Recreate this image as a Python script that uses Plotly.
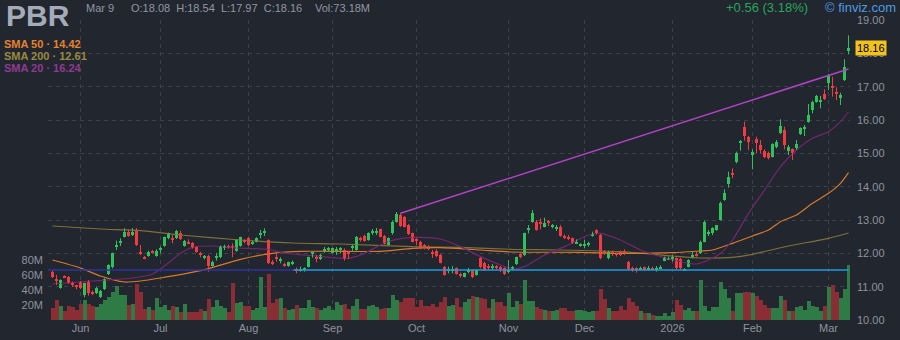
import pandas as pd
import plotly.graph_objects as go

# ---------------------------------------------------------------- calendar
market_holidays = pd.to_datetime([
    "2025-05-26", "2025-06-19", "2025-07-04", "2025-09-01", "2025-11-27",
    "2025-12-25", "2026-01-01", "2026-01-19", "2026-02-16",
])
sessions = pd.bdate_range("2025-05-21", "2026-03-09")
sessions = sessions[~sessions.isin(market_holidays)]

ticker = "PBR"
month_labels = ["Jun", "Jul", "Aug", "Sep", "Oct", "Nov", "Dec", "2026", "Feb", "Mar"]
price_ticks = [10, 11, 12, 13, 14, 15, 16, 17, 18, 19]
volume_ticks = [20, 40, 60, 80]  # millions of shares

# ---------------------------------------------------------------- daily OHLC
opens = [
    11.45, 11.24, 10.97, 11.32, 11.30, 11.10, 11.03, 11.15, 10.75, 11.15,
    10.85, 10.80, 10.68, 10.92, 11.38, 11.58, 12.20, 12.32, 12.50, 12.65,
    12.55, 12.70, 12.05, 11.90, 11.92, 12.06, 11.93, 12.10, 12.22, 12.45,
    12.45, 12.45, 12.62, 12.22, 12.33, 12.32, 12.18, 11.99, 11.88, 11.92,
    11.62, 11.88, 11.88, 12.18, 12.22, 12.22, 12.08, 12.22, 12.38, 12.45,
    12.28, 12.35, 12.56, 12.62, 12.40, 11.75, 11.88, 11.78, 11.68, 11.62,
    11.70, 11.52, 11.48, 11.50, 11.60, 11.98, 11.88, 11.82, 12.10, 12.12,
    12.02, 12.08, 12.10, 12.10, 12.03, 12.16, 12.10, 12.46, 12.53, 12.40,
    12.62, 12.64, 12.72, 12.52, 12.26, 12.60, 12.95, 13.15, 13.08, 12.85,
    12.60, 12.42, 12.35, 12.25, 12.17, 12.05, 12.08, 11.95, 11.58, 11.48,
    11.48, 11.55, 11.37, 11.30, 11.44, 11.50, 11.35, 11.85, 11.72, 11.62,
    11.58, 11.62, 11.58, 11.55, 11.45, 11.50, 11.67, 11.97, 11.95, 12.70,
    12.95, 12.95, 12.92, 12.80, 12.95, 12.78, 12.74, 12.80, 12.50, 12.47,
    12.45, 12.30, 12.22, 12.22, 12.26, 12.52, 12.70, 12.55, 12.05, 11.85,
    12.04, 12.00, 12.05, 12.08, 11.75, 11.55, 11.55, 11.50, 11.58, 11.50,
    11.56, 11.50, 11.55, 11.78, 11.82, 11.84, 11.85, 11.82, 11.50, 11.60,
    11.90, 11.98, 12.00, 12.35, 12.58, 12.60, 12.70, 13.00, 13.60, 14.08,
    14.42, 14.73, 15.30, 15.80, 15.50, 14.95, 15.43, 15.25, 15.07, 15.00,
    14.90, 15.20, 15.62, 15.70, 15.08, 15.12, 15.15, 15.58, 15.75, 15.95,
    16.30, 16.55, 16.55, 16.78, 17.12, 17.02, 16.84, 16.66, 17.20, 18.08,
]
highs = [
    11.50, 11.35, 11.22, 11.34, 11.32, 11.15, 11.05, 11.17, 11.12, 11.20,
    10.88, 10.99, 10.90, 11.25, 11.67, 12.02, 12.38, 12.45, 12.75, 12.72,
    12.76, 12.76, 12.25, 11.92, 12.08, 12.10, 12.12, 12.20, 12.50, 12.62,
    12.55, 12.70, 12.68, 12.40, 12.42, 12.34, 12.20, 12.05, 11.95, 11.95,
    11.78, 12.00, 12.24, 12.26, 12.26, 12.30, 12.42, 12.50, 12.42, 12.48,
    12.38, 12.48, 12.70, 12.75, 12.42, 11.80, 12.00, 11.88, 11.72, 11.75,
    11.78, 11.58, 11.60, 11.58, 11.90, 12.05, 11.95, 11.98, 12.19, 12.19,
    12.17, 12.19, 12.19, 12.15, 12.07, 12.25, 12.52, 12.50, 12.56, 12.63,
    12.73, 12.76, 12.74, 12.55, 12.48, 12.98, 13.24, 13.21, 13.12, 12.88,
    12.62, 12.45, 12.38, 12.28, 12.25, 12.10, 12.12, 11.98, 11.62, 11.60,
    11.62, 11.58, 11.42, 11.42, 11.56, 11.52, 11.52, 11.88, 11.75, 11.68,
    11.68, 11.65, 11.62, 11.58, 11.80, 11.62, 11.90, 12.00, 12.62, 12.85,
    13.30, 13.00, 13.05, 13.07, 13.00, 12.88, 12.85, 12.85, 12.57, 12.55,
    12.47, 12.42, 12.30, 12.40, 12.35, 12.65, 12.72, 12.58, 12.10, 12.08,
    12.08, 12.02, 12.08, 12.12, 11.77, 11.60, 11.58, 11.60, 11.60, 11.62,
    11.60, 11.62, 11.64, 11.90, 11.90, 11.95, 11.88, 11.86, 11.55, 11.82,
    12.05, 12.05, 12.38, 12.98, 12.70, 12.78, 12.85, 13.55, 13.92, 14.45,
    14.55, 15.05, 15.40, 15.95, 15.52, 15.12, 15.50, 15.40, 15.12, 15.05,
    15.30, 15.40, 16.02, 15.80, 15.25, 15.15, 15.40, 15.78, 15.85, 16.48,
    16.58, 16.75, 16.72, 16.92, 17.38, 17.30, 16.98, 16.82, 17.82, 18.54,
]
lows = [
    11.26, 11.05, 10.94, 11.26, 11.08, 10.99, 10.92, 10.93, 10.68, 10.73,
    10.75, 10.78, 10.66, 10.90, 11.35, 11.55, 12.10, 12.22, 12.48, 12.50,
    12.52, 12.22, 11.95, 11.82, 11.90, 12.00, 11.90, 12.00, 12.20, 12.42,
    12.30, 12.43, 12.40, 12.20, 12.28, 12.14, 12.02, 11.88, 11.82, 11.45,
    11.60, 11.78, 11.85, 12.10, 12.14, 11.88, 12.05, 12.20, 12.30, 12.22,
    12.25, 12.33, 12.45, 12.52, 11.68, 11.65, 11.75, 11.70, 11.60, 11.60,
    11.65, 11.40, 11.45, 11.45, 11.58, 11.87, 11.73, 11.80, 12.02, 12.05,
    12.00, 11.95, 12.00, 11.78, 11.83, 12.08, 12.08, 12.35, 12.35, 12.38,
    12.55, 12.55, 12.48, 12.26, 12.24, 12.56, 12.92, 12.79, 12.78, 12.55,
    12.33, 12.25, 12.12, 12.12, 12.10, 11.86, 11.88, 11.70, 11.33, 11.40,
    11.40, 11.36, 11.27, 11.28, 11.40, 11.26, 11.33, 11.55, 11.48, 11.50,
    11.50, 11.50, 11.44, 11.35, 11.40, 11.48, 11.65, 11.85, 11.92, 12.60,
    12.92, 12.68, 12.72, 12.78, 12.82, 12.75, 12.67, 12.50, 12.43, 12.40,
    12.28, 12.28, 12.20, 12.15, 12.20, 12.50, 12.56, 11.82, 11.95, 11.82,
    11.92, 11.90, 11.92, 11.95, 11.50, 11.45, 11.42, 11.50, 11.48, 11.48,
    11.50, 11.45, 11.54, 11.76, 11.81, 11.75, 11.52, 11.50, 11.48, 11.58,
    11.85, 11.90, 11.98, 12.33, 12.52, 12.55, 12.68, 12.98, 13.58, 13.97,
    14.25, 14.70, 15.08, 15.38, 15.10, 14.52, 15.00, 15.00, 14.85, 14.82,
    14.88, 15.15, 15.58, 15.12, 14.95, 14.80, 15.10, 15.55, 15.52, 15.92,
    16.20, 16.52, 16.35, 16.60, 16.90, 16.70, 16.60, 16.45, 17.17, 17.97,
]
closes = [
    11.30, 11.18, 11.20, 11.28, 11.10, 11.06, 10.99, 10.95, 11.10, 10.80,
    10.80, 10.95, 10.87, 11.22, 11.65, 12.00, 12.24, 12.35, 12.65, 12.52,
    12.65, 12.25, 12.00, 11.84, 12.05, 12.03, 12.08, 12.14, 12.48, 12.60,
    12.41, 12.68, 12.42, 12.38, 12.30, 12.15, 12.04, 11.96, 11.91, 11.62,
    11.75, 11.92, 12.22, 12.22, 12.18, 12.15, 12.40, 12.48, 12.34, 12.24,
    12.32, 12.47, 12.60, 12.65, 11.70, 11.70, 11.85, 11.82, 11.64, 11.74,
    11.73, 11.47, 11.52, 11.54, 11.90, 12.02, 11.84, 11.96, 12.13, 12.15,
    12.15, 12.12, 12.14, 11.85, 11.98, 12.20, 12.50, 12.42, 12.38, 12.62,
    12.65, 12.67, 12.50, 12.28, 12.46, 12.95, 13.18, 12.83, 12.80, 12.57,
    12.35, 12.38, 12.15, 12.18, 12.14, 11.98, 11.92, 11.72, 11.36, 11.53,
    11.52, 11.38, 11.34, 11.40, 11.48, 11.28, 11.50, 11.58, 11.50, 11.58,
    11.62, 11.58, 11.54, 11.37, 11.50, 11.60, 11.88, 11.90, 12.60, 12.74,
    13.20, 12.70, 12.88, 12.90, 12.92, 12.85, 12.78, 12.53, 12.46, 12.43,
    12.30, 12.34, 12.28, 12.26, 12.30, 12.56, 12.60, 11.85, 12.02, 12.05,
    12.00, 11.97, 11.94, 11.97, 11.52, 11.52, 11.50, 11.54, 11.50, 11.55,
    11.52, 11.55, 11.58, 11.90, 11.86, 11.88, 11.55, 11.55, 11.52, 11.80,
    11.95, 11.95, 12.35, 12.93, 12.62, 12.75, 12.85, 13.52, 13.80, 14.30,
    14.35, 15.02, 15.37, 15.52, 15.35, 15.05, 15.30, 15.10, 14.90, 14.85,
    15.28, 15.35, 15.82, 15.25, 15.18, 15.02, 15.28, 15.75, 15.78, 16.15,
    16.55, 16.72, 16.58, 16.62, 17.32, 16.98, 16.80, 16.75, 17.60, 18.16,
]
volumes = [  # millions of shares
    15.6, 27.0, 18.7, 12.0, 18.7, 17.0, 13.5, 21.0, 26.7, 22.0,
    18.7, 17.0, 21.0, 27.0, 30.5, 37.0, 45.0, 34.0, 34.0, 20.0,
    22.0, 48.0, 38.0, 15.0, 17.0, 13.0, 30.0, 18.0, 20.0, 13.0,
    18.7, 17.0, 11.0, 21.0, 11.0, 11.0, 11.0, 15.0, 12.0, 27.6,
    17.0, 26.7, 18.7, 15.6, 11.0, 49.0, 23.0, 24.0, 18.7, 18.7,
    14.0, 15.6, 57.8, 17.0, 62.0, 23.0, 27.6, 30.0, 15.6, 13.0,
    15.0, 19.6, 15.6, 15.6, 26.7, 17.8, 15.6, 13.3, 15.6, 18.7,
    13.3, 23.6, 20.0, 21.3, 14.2, 18.7, 28.0, 14.2, 14.2, 18.7,
    20.0, 17.8, 14.2, 16.0, 16.0, 34.0, 26.7, 23.6, 29.0, 29.0,
    29.0, 17.8, 26.7, 19.0, 19.0, 21.0, 17.8, 24.0, 31.0, 19.0,
    20.4, 30.0, 17.8, 23.6, 28.0, 32.4, 31.0, 30.0, 28.0, 16.0,
    28.0, 23.6, 24.0, 19.0, 35.6, 17.8, 25.0, 21.0, 53.0, 26.0,
    25.0, 18.0, 14.2, 13.3, 11.6, 12.0, 13.0, 15.6, 16.0, 12.0,
    11.6, 13.3, 13.3, 12.4, 10.2, 11.6, 11.6, 41.0, 27.6, 15.6,
    12.4, 12.4, 18.7, 13.3, 30.0, 24.4, 18.7, 12.4, 8.9, 10.0,
    6.7, 5.8, 5.8, 8.9, 5.8, 10.2, 26.7, 20.0, 13.3, 15.6,
    12.4, 12.4, 53.0, 18.7, 11.6, 17.0, 17.0, 51.0, 41.0, 30.0,
    12.0, 36.0, 36.0, 37.8, 37.8, 36.0, 32.0, 26.7, 20.0, 15.6,
    15.6, 15.6, 32.0, 26.7, 12.4, 12.4, 17.8, 18.7, 13.3, 25.0,
    18.7, 17.0, 12.4, 18.7, 43.6, 46.7, 38.0, 29.0, 41.0, 73.18,
]

# ---------------------------------------------------------------- moving averages (session number, value)
sma20_at = [0, 10, 20, 25, 28, 32, 35, 40, 46, 54, 58, 65, 74, 78, 83, 87, 92, 97,
            102, 107, 112, 115, 118, 123, 128, 134, 137, 142, 147, 152, 157, 161,
            164, 167, 170, 174, 178, 182, 186, 190, 194, 197, 199]
sma20_val = [11.08, 11.17, 11.26, 11.38, 11.62, 12.00, 12.18, 12.22, 12.16, 12.12,
             12.01, 11.93, 11.85, 12.00, 12.31, 12.44, 12.48, 12.43, 12.20, 11.90,
             11.65, 11.53, 11.60, 11.95, 12.20, 12.55, 12.60, 12.40, 12.10, 11.90,
             11.75, 11.68, 11.80, 12.00, 12.40, 13.20, 13.90, 14.60, 15.10, 15.45,
             15.65, 15.95, 16.24]
sma50_at = [0, 7, 12, 18, 22, 27, 37, 47, 55, 62, 82, 90, 97, 107, 115, 132, 142,
            155, 162, 165, 170, 175, 179, 182, 186, 190, 194, 197, 199]
sma50_val = [11.80, 11.56, 11.32, 11.14, 11.17, 11.26, 11.48, 11.82, 12.00, 12.06,
             12.06, 12.15, 12.17, 12.10, 12.04, 12.03, 12.00, 12.02, 12.07, 12.10,
             12.30, 12.52, 12.70, 12.95, 13.15, 13.50, 13.80, 14.10, 14.42]
sma200_at = [0, 12, 22, 32, 47, 60, 72, 90, 102, 115, 127, 142, 155, 162, 170,
             175, 184, 194, 199]
sma200_val = [12.82, 12.73, 12.68, 12.55, 12.40, 12.31, 12.28, 12.20, 12.18, 12.12,
              12.10, 12.05, 11.92, 11.86, 11.88, 11.97, 12.22, 12.45, 12.61]

# ---------------------------------------------------------------- drawn lines
support_price = 11.50
support_from = 60          # session where the current support line begins
trend_at = [87, 199]
trend_price = [13.20, 17.53]

# ---------------------------------------------------------------- styling
BG = "#22262f"
GRID = "#3d414c"
TICK = "#8e939e"
HEAD = "#9197a3"
UP, DOWN = "#2fc25b", "#f23a40"
VOL_UP, VOL_DOWN = "#2e7b46", "#8b2d34"
C_SMA20, C_SMA50, C_SMA200 = "#70296e", "#d8792c", "#80703a"
T_SMA20, T_SMA50, T_SMA200 = "#8f3b8f", "#e4822e", "#9b8a3f"
FONT = "Liberation Sans, Arial, sans-serif"
MIN_BODY = 0.035
VOL_MAX = 400               # volume axis top, millions
PRICE_LO, PRICE_HI = 10, 19

n = len(closes)
idx = list(range(n))
month_pos = [i for i in range(1, len(sessions)) if sessions[i].month != sessions[i - 1].month]

up = [i for i in idx if closes[i] >= opens[i]]
down = [i for i in idx if closes[i] < opens[i]]


def bodies(ids):
    base, height = [], []
    for i in ids:
        lo, hi = min(opens[i], closes[i]), max(opens[i], closes[i])
        h = max(hi - lo, MIN_BODY)
        mid = (lo + hi) / 2
        base.append(mid - h / 2)
        height.append(h)
    return base, height


def wicks(ids):
    xs, ys = [], []
    for i in ids:
        xs += [i, i, None]
        ys += [lows[i], highs[i], None]
    return xs, ys


def price_on_volume_axis(p):
    return (p - PRICE_LO) / (PRICE_HI - PRICE_LO) * VOL_MAX


fig = go.Figure()

# volume histogram on the base axis so it stays underneath the prices
for ids, col in ((up, VOL_UP), (down, VOL_DOWN)):
    fig.add_trace(go.Bar(x=ids, y=[volumes[i] for i in ids], width=1.0,
                         marker=dict(color=col, line=dict(width=0)),
                         yaxis="y", hoverinfo="skip"))

# moving averages
for at, val, col in ((sma200_at, sma200_val, C_SMA200),
                     (sma50_at, sma50_val, C_SMA50),
                     (sma20_at, sma20_val, C_SMA20)):
    fig.add_trace(go.Scatter(x=at, y=val, mode="lines", yaxis="y2",
                             line=dict(color=col, width=1.2, shape="spline", smoothing=0.6),
                             hoverinfo="skip"))

# candles: wicks then bodies
for ids, col in ((up, UP), (down, DOWN)):
    wx, wy = wicks(ids)
    fig.add_trace(go.Scatter(x=wx, y=wy, mode="lines", yaxis="y2",
                             line=dict(color=col, width=1), hoverinfo="skip"))
    b, h = bodies(ids)
    fig.add_trace(go.Bar(x=ids, y=h, base=b, width=0.75, yaxis="y2",
                         marker=dict(color=col, line=dict(width=0)), hoverinfo="skip"))

# horizontal support line (older part darker) and rising trendline
fig.add_trace(go.Scatter(x=[-1.125, support_from + 0.2], y=[support_price, support_price],
                         mode="lines", yaxis="y2", line=dict(color="#2d33a0", width=1.4),
                         hoverinfo="skip"))
fig.add_trace(go.Scatter(x=[support_from + 0.2, n - 1], y=[support_price, support_price],
                         mode="lines", yaxis="y2", line=dict(color="#1f9be3", width=1.3),
                         hoverinfo="skip"))
fig.add_trace(go.Scatter(x=trend_at, y=trend_price, mode="lines", yaxis="y2",
                         line=dict(color="#b044c6", width=1.5), hoverinfo="skip"))

# backdrop behind the ticker / legend block (hides the grid there)
fig.add_shape(type="rect", xref="x", yref="y", x0=-1.2, x1=6.8,
              y0=price_on_volume_axis(17.38), y1=VOL_MAX,
              fillcolor=BG, line=dict(width=0), layer="between")

L, R, T, B = 48, 50, 20, 20
W, H = 900, 340


def px(x):
    return (x - L) / (W - L - R)


def py(y):
    return (H - B - y) / (H - T - B)


def note(text, x, y, size, color, anchor="left"):
    fig.add_annotation(text=text, xref="paper", yref="paper", x=px(x), y=py(y),
                       xanchor=anchor, yanchor="middle", showarrow=False,
                       font=dict(family=FONT, size=size, color=color))


last, prev = closes[-1], closes[-2]
chg = last - prev
note(f"<b>{ticker}</b>", 4, 15, 30, "#a4abb9")
note(sessions[-1].strftime("%b ") + str(sessions[-1].day), 84, 8, 11, HEAD)
note(f"O:{opens[-1]:.2f}  H:{highs[-1]:.2f}  L:{lows[-1]:.2f}  C:{closes[-1]:.2f}",
     129, 8, 11, HEAD)
note(f"Vol:{volumes[-1]:.2f}M", 313, 8, 11, HEAD)
note(f"{chg:+.2f} ({chg / prev * 100:.2f}%)", 724, 8, 13, "#27a659")
note("© finviz.com", 823, 7, 13, "#4a9de4")
note(f"<b>SMA 50 · {sma50_val[-1]:.2f}</b>", 2, 44, 11, T_SMA50)
note(f"<b>SMA 200 · {sma200_val[-1]:.2f}</b>", 2, 56, 11, T_SMA200)
note(f"<b>SMA 20 · {sma20_val[-1]:.2f}</b>", 2, 68, 11, T_SMA20)

# last price tag on the price scale
fig.add_annotation(text=f"{last:.2f}", xref="paper", yref="y2", x=px(855), y=last,
                   xanchor="left", yanchor="middle", showarrow=False,
                   bgcolor="#f2c31c", borderpad=1,
                   font=dict(family=FONT, size=11, color="#000000"))

fig.update_layout(
    width=W, height=H,
    margin=dict(l=L, r=R, t=T, b=B, autoexpand=False),
    paper_bgcolor=BG, plot_bgcolor=BG,
    barmode="overlay", bargap=0, showlegend=False,
    font=dict(family=FONT, color=TICK),
    xaxis=dict(range=[-1.125, n - 0.625], tickvals=month_pos, ticktext=month_labels,
               showgrid=True, gridcolor=GRID, griddash="4px,4px", gridwidth=1,
               zeroline=False, showline=False, ticks="", automargin=False,
               tickfont=dict(size=11, color=TICK)),
    yaxis=dict(range=[0, VOL_MAX], tickvals=volume_ticks,
               ticktext=[f"{v}M" for v in volume_ticks], side="left",
               showgrid=False, zeroline=False, showline=False, ticks="",
               automargin=False, ticklabelstandoff=4,
               tickfont=dict(size=11, color=TICK)),
    yaxis2=dict(range=[PRICE_LO, PRICE_HI], overlaying="y", side="right",
                tickvals=price_ticks, ticktext=[f"{v:.2f}" for v in price_ticks],
                showgrid=True, gridcolor=GRID, griddash="4px,4px", gridwidth=1,
                zeroline=False, showline=False, ticks="", ticklabelstandoff=6,
                automargin=False, tickfont=dict(size=11, color=TICK)),
)

fig.write_html("out.html")
